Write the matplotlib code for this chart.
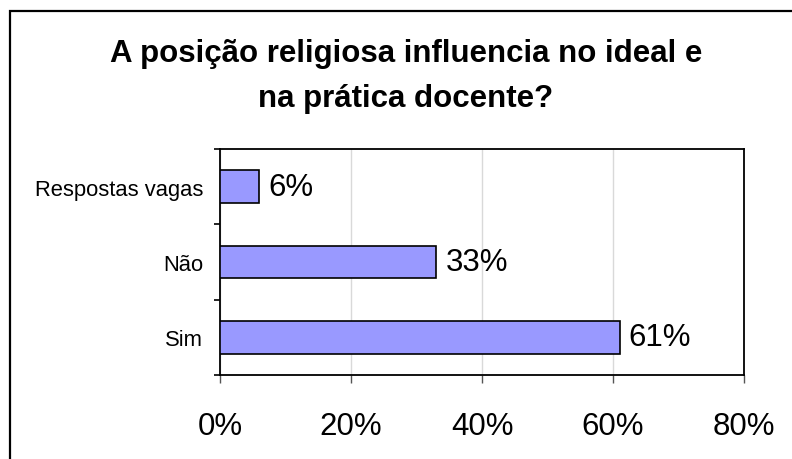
import matplotlib.pyplot as plt
import matplotlib.patches as patches

# data
categories = ["Sim", "Não", "Respostas vagas"]
values = [61, 33, 6]
x_ticks = [0, 20, 40, 60, 80]
title_lines = ["A posição religiosa influencia no ideal e", "na prática docente?"]

plt.rcParams['font.family'] = ['Liberation Sans', 'DejaVu Sans']

fig = plt.figure(figsize=(7.92, 4.6), dpi=100)
ax = fig.add_axes([220/792, 1 - 376/460, (744 - 220)/792, (376 - 150)/460])

# frame round the whole chart (cropped on right and bottom)
fig.patches.append(patches.Rectangle((10/792, -0.05), 1.0, 1 - 12/460 + 0.05,
                                     transform=fig.transFigure, fill=False,
                                     edgecolor='black', linewidth=1.6))

ypos = range(len(categories))
ax.barh(ypos, values, height=0.43, color='#9999FF', edgecolor='black', linewidth=1.2, zorder=3)
for y, v in zip(ypos, values):
    ax.text(v + 1.4, y, str(v) + "%", va='center', ha='left', fontsize=22.5)

ax.set_xlim(0, 80)
ax.set_ylim(-0.5, 2.5)
ax.set_xticks(x_ticks)
ax.set_xticklabels([str(t) + "%" for t in x_ticks], fontsize=22.5)
ax.set_yticks(list(ypos))
ax.set_yticklabels(categories, fontsize=15.8)
ax.set_yticks([-0.5, 0.5, 1.5, 2.5], minor=True)
ax.tick_params(axis='y', which='major', length=0, pad=12)
ax.tick_params(axis='y', which='minor', length=4, width=1.2, direction='out')
ax.tick_params(axis='x', length=6, width=1, color='#555555', pad=20)
ax.grid(axis='x', color='#D9D9D9', linewidth=1, zorder=0)
for s in ax.spines.values():
    s.set_linewidth(1.3)
    s.set_color('black')

# title, one line at a time so the baselines sit where the reference has them
for line, base in zip(title_lines, [62, 107]):
    fig.text(406/792, 1 - base/460, line, ha='center', va='baseline',
             fontsize=22.5, fontweight='bold')

fig.savefig('out.png', dpi=100)
